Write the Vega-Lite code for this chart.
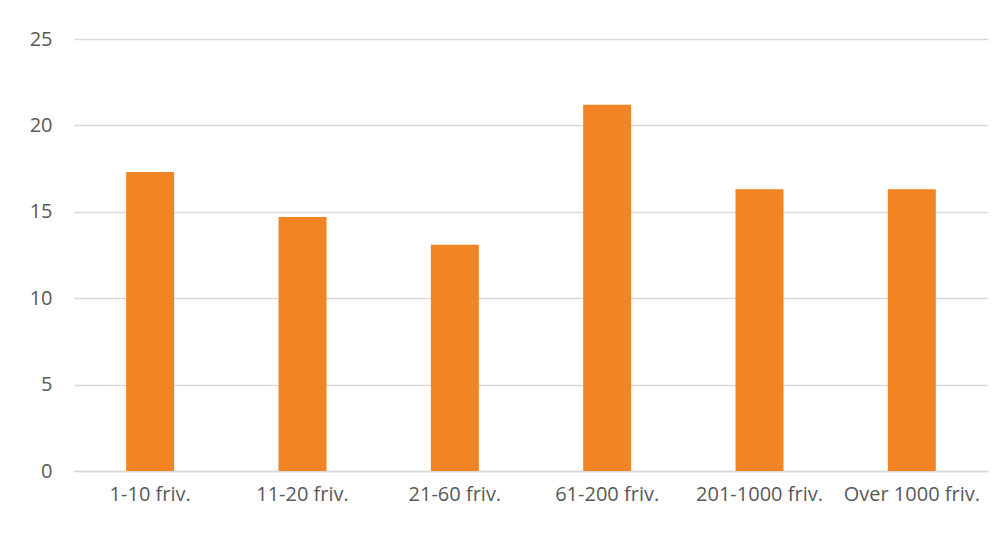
{
  "$schema": "https://vega.github.io/schema/vega-lite/v6.json",
  "width": 914,
  "height": 432,
  "autosize": {"type": "none"},
  "padding": {"left": 74, "top": 39, "right": 17, "bottom": 63},
  "background": "white",
  "config": {"view": {"stroke": null}},
  "data": {
    "values": [
      {"category": "1-10 friv.", "value": 17.3},
      {"category": "11-20 friv.", "value": 14.7},
      {"category": "21-60 friv.", "value": 13.1},
      {"category": "61-200 friv.", "value": 21.2},
      {"category": "201-1000 friv.", "value": 16.3},
      {"category": "Over 1000 friv.", "value": 16.3}
    ]
  },
  "mark": {"type": "bar", "color": "#F28424"},
  "encoding": {
    "x": {
      "field": "category",
      "type": "nominal",
      "sort": null,
      "scale": {"paddingInner": 0.685, "paddingOuter": 0.3425},
      "axis": {
        "title": null,
        "labelAngle": 0,
        "labelFont": "Open Sans",
        "labelFontSize": 20,
        "labelColor": "#595959",
        "labelPadding": 13,
        "ticks": false,
        "labelOverlap": false,
        "domainColor": "#d9d9d9",
        "domainWidth": 1.5
      }
    },
    "y": {
      "field": "value",
      "type": "quantitative",
      "scale": {"domain": [0, 25]},
      "axis": {
        "title": null,
        "values": [0, 5, 10, 15, 20, 25],
        "labelFont": "Open Sans",
        "labelFontSize": 20,
        "labelColor": "#595959",
        "labelPadding": 22,
        "ticks": false,
        "domain": false,
        "gridColor": "#d9d9d9",
        "gridWidth": 1.5
      }
    }
  }
}
